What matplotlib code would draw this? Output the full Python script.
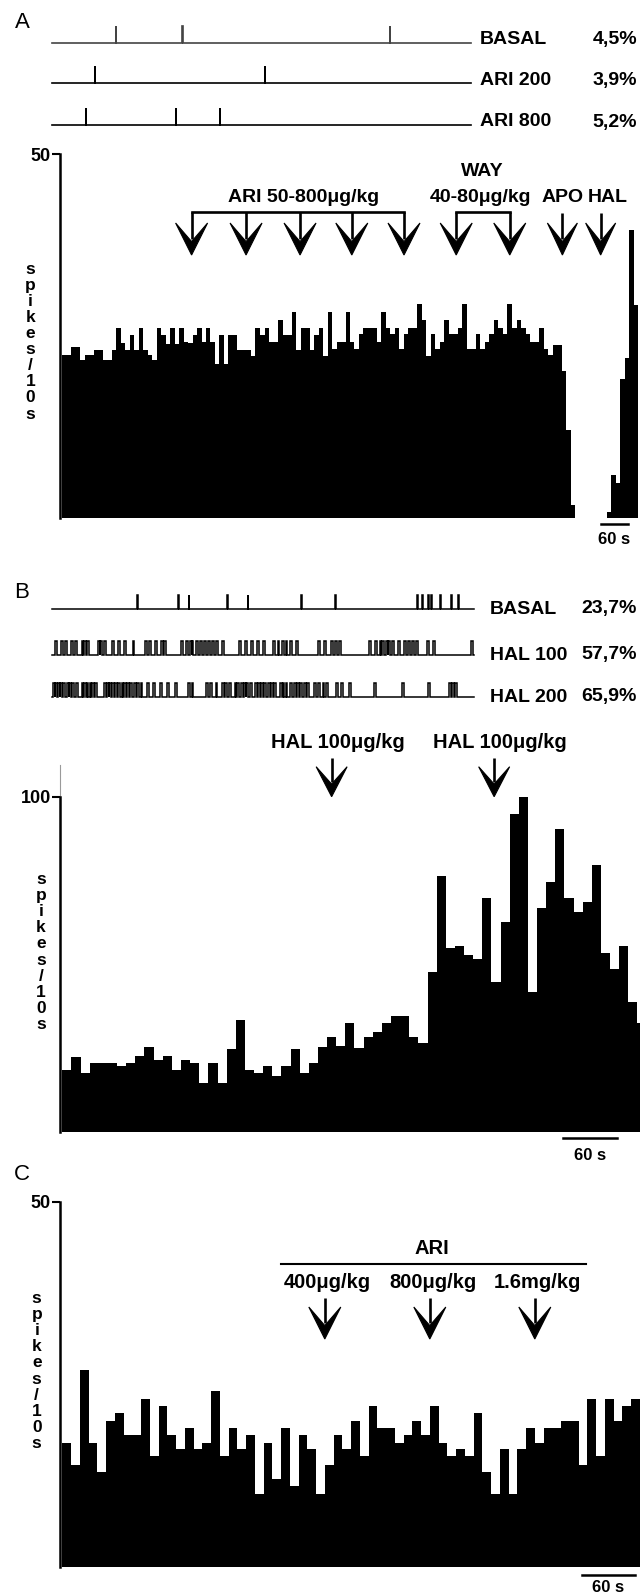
import numpy as np
import matplotlib
matplotlib.use("Agg")
import matplotlib.pyplot as plt
from matplotlib.patches import Polygon
from matplotlib.transforms import blended_transform_factory

plt.rcParams['font.family'] = ['Liberation Sans', 'DejaVu Sans']

W, H, DPI = 640, 1596, 100
BIN = 10  # seconds per histogram bin

# ---------------- data ----------------
# Panel A : firing rate (spikes / 10 s)
a_rate = [22.4, 22.4, 23.5, 23.5, 21.6, 22.3, 22.3, 23.0, 23.0, 21.6, 21.6, 23.0, 26.0, 24.0, 23.0,
          25.1, 23.0, 26.0, 23.0, 22.3, 21.6, 26.0, 25.1, 23.9, 26.0, 23.9, 26.0, 24.2, 24.0, 25.1,
          26.0, 24.2, 26.0, 24.2, 21.1, 25.1, 21.1, 25.1, 25.1, 23.0, 23.0, 23.0, 22.2, 26.0, 25.1,
          26.0, 24.2, 24.2, 27.1, 25.1, 25.1, 28.2, 23.0, 26.0, 26.0, 23.0, 25.1,
          26.1, 22.2, 28.2, 23.2, 24.2, 24.2, 28.2, 24.2, 23.2, 25.2, 26.1, 26.1, 26.1, 24.2, 28.2,
          26.1, 25.2, 26.1, 23.2, 25.2, 26.1, 26.1, 29.3, 27.2, 22.2, 25.2, 23.2, 24.2, 27.2, 25.2,
          25.2, 26.1, 29.3, 23.2, 23.2, 25.2, 23.2, 24.2, 25.2, 27.2, 26.1, 25.2, 29.3, 26.1, 27.2,
          26.1, 25.2, 24.2, 24.2, 26.1, 23.2, 22.4, 23.7, 23.7, 20.1, 12.0, 1.7,
          0, 0, 0, 0, 0, 0, 0,
          0.7, 5.8, 4.8, 19.0, 22.0, 39.5, 29.2]
a_ari_times = [288, 409, 529, 644, 760]
a_way_times = [876, 995]
a_apo_time = 1112
a_hal_time = 1197

a_trace_labels = ['BASAL', 'ARI 200', 'ARI 800']
a_trace_pcts = ['4,5%', '3,9%', '5,2%']
a_spikes = [[15.2, 31.1, 80.6], [10.3, 50.9], [8.0, 29.6, 40.0]]

# Panel B
b_rate = [18.4, 22.4, 17.6, 20.4, 20.4, 20.4, 19.6, 20.4, 22.6, 25.4, 21.4, 22.6, 18.4, 21.4, 20.4,
          14.6, 20.4, 14.6, 24.6, 33.3, 18.4, 17.6, 19.6, 16.6, 19.6, 24.6, 17.6, 20.4, 25.4, 28.4,
          25.6, 32.3, 24.9, 28.4, 29.6, 32.5, 34.5, 34.5, 28.4, 26.6, 47.5, 76.3, 54.7, 55.4, 52.6,
          51.4, 69.6, 44.7, 62.6, 94.7, 99.8, 41.7, 66.6, 74.6, 90.4, 69.7, 65.6, 68.6, 79.5, 53.4,
          48.5, 55.4, 38.6, 32.5]
b_hal_times = [295, 473]

b_trace_labels = ['BASAL', 'HAL 100', 'HAL 200']
b_trace_pcts = ['23,7%', '57,7%', '65,9%']
b_spikes = [
    [20.1, 30.0, 32.4, 41.6, 46.4, 59.1, 67.2, 86.6, 87.9, 89.3, 90.0, 92.1, 94.7, 96.3],
    [0.7, 2.1, 3.1, 4.6, 5.5, 7.0, 7.7, 8.4, 10.9, 11.5, 12.3, 14.2, 15.7, 17.2, 19.1, 22.0,
     23.0, 24.4, 25.9, 26.6, 30.7, 31.7, 32.7, 33.1, 34.1, 35.1, 36.0, 37.0, 38.0, 39.0, 40.4,
     44.3, 45.7, 47.2, 48.6, 50.1, 52.5, 53.5, 54.5, 55.4, 56.4, 57.8, 63.2, 64.6, 66.1, 67.2,
     68.0, 75.3, 76.7, 77.7, 78.4, 79.2, 79.7, 80.6, 82.1, 83.5, 84.5, 85.5, 86.4, 88.9, 90.3,
     99.5],
    [0.2, 0.8, 1.4, 1.9, 2.7, 3.5, 4.1, 4.8, 5.6, 7.0, 7.6, 8.2, 8.9, 9.6, 10.3, 12.3, 13.0,
     13.6, 14.2, 14.9, 15.7, 16.5, 17.2, 17.8, 18.6, 19.4, 20.1, 21.0, 22.5, 23.9, 25.6, 27.3,
     29.3, 32.2, 33.1, 36.5, 37.5, 38.8, 40.4, 41.1, 41.9, 43.3, 44.0, 44.8, 45.5, 46.1, 46.9,
     48.2, 48.8, 49.6, 50.4, 51.2, 51.9, 52.7, 54.0, 54.7, 55.4, 56.4, 57.4, 58.1, 58.9, 59.7,
     60.5, 62.2, 63.2, 64.2, 65.1, 67.3, 68.5, 70.5, 76.3, 83.0, 89.3, 94.2, 95.0, 95.7],
]

# Panel C
c_rate = [16.9, 14.0, 27.0, 16.9, 13.0, 20.0, 21.0, 18.0, 18.0, 23.0, 15.1, 22.0, 18.0, 16.1, 19.0,
          16.1, 16.9, 24.1, 15.1, 19.0, 16.1, 18.0, 10.0, 16.9, 12.0, 19.0, 11.0, 18.0, 16.1, 10.0,
          14.0, 18.0,
          16.1, 20.0, 15.1, 22.0, 19.0, 19.0, 17.0, 18.0, 20.0, 18.0, 22.0, 17.0, 15.1, 16.1, 15.1,
          21.1, 13.0, 10.0, 16.1, 10.0, 16.1, 19.0, 17.0, 19.0, 19.0, 20.0, 20.0, 14.0, 23.0, 15.1,
          23.0, 20.0, 22.0, 23.0]
c_ari_times = [300, 420, 540]
c_dose_labels = ['400μg/kg', '800μg/kg', '1.6mg/kg']

# ---------------- figure ----------------
fig = plt.figure(figsize=(W / DPI, H / DPI), dpi=DPI)
ov = fig.add_axes([0, 0, 1, 1])
ov.set_xlim(0, W)
ov.set_ylim(H, 0)
ov.axis('off')

BOLD = dict(fontweight='bold')
LAB_FS = 14


def px_axes(x0, y0, x1, y1):
    return fig.add_axes([x0 / W, 1 - y1 / H, (x1 - x0) / W, (y1 - y0) / H])


def to_px(ax, t, v=0.0):
    xd, yd = ax.transData.transform((t, v))
    return xd, H - yd


def hist_panel(rate, y_top, y_base, top_val, tick_val, bar_x0, px_per_bin, extra_top=None):
    ax = px_axes(60, y_top, W, y_base)
    edges = np.arange(len(rate) + 1) * BIN
    ax.stairs(rate, edges, fill=True, color='black', lw=0)
    ax.set_ylim(0, top_val)
    ax.set_xlim((60 - bar_x0) / px_per_bin * BIN, (W - bar_x0) / px_per_bin * BIN)
    for s in ['top', 'right', 'bottom']:
        ax.spines[s].set_visible(False)
    ax.spines['left'].set_linewidth(1.8)
    ax.spines['left'].set_bounds(0, tick_val)
    ax.set_xticks([])
    ax.set_yticks([tick_val])
    ax.set_yticklabels([str(tick_val)], fontsize=13, fontweight='bold')
    ax.tick_params(axis='y', direction='out', length=5.5, width=1.5, pad=1)
    ax.patch.set_alpha(0)
    if extra_top is not None:
        tr = blended_transform_factory(ax.transAxes, ax.transData)
        ax.plot([0, 0], [tick_val, extra_top], transform=tr, color='#9a9a9a', lw=0.8,
                clip_on=False)
    return ax


def arrow(x, y_top, y_tip, head_h=32, head_w=32, lw=1.9):
    ov.plot([x, x], [y_top, y_tip - head_h * 0.5], color='k', lw=lw, solid_capstyle='butt')
    ov.add_patch(Polygon([(x, y_tip), (x + head_w / 2, y_tip - head_h),
                          (x, y_tip - head_h * 0.42), (x - head_w / 2, y_tip - head_h)],
                         closed=True, facecolor='k', edgecolor='k', lw=0.8))


def ylabel_letters(x, y_center):
    ov.text(x, y_center, '\n'.join('spikes/10s'), ha='center', va='center',
            fontsize=12.5, fontweight='bold', linespacing=1.09)


def trace(spikes, x0, x1, y_base, height, pulse_w, color='k', lw=1.1):
    ax = px_axes(x0, y_base - height, x1, y_base)
    ax.set_xlim(0, 100)
    ax.set_ylim(0, 1)
    ax.axis('off')
    xs, ys = [0], [0]
    for s in spikes:
        xs += [s, s, s + pulse_w, s + pulse_w]
        ys += [0, 1, 1, 0]
    xs.append(100)
    ys.append(0)
    ax.plot(xs, ys, color=color, lw=lw, clip_on=False, solid_joinstyle='miter')
    return ax


# ---------------- Panel A ----------------
ov.text(22, 22, 'A', ha='center', va='center', fontsize=16)
a_trace_y = [42.7, 83.3, 125.0]
for i, (lab, pct, sp) in enumerate(zip(a_trace_labels, a_trace_pcts, a_spikes)):
    trace(sp, 52, 471, a_trace_y[i], 17, 0.05, color='#444444' if i == 0 else 'k', lw=1.2)
    ov.text(480, a_trace_y[i] - 3, lab, ha='left', va='center', fontsize=LAB_FS, **BOLD)
    ov.text(637, a_trace_y[i] - 3, pct, ha='right', va='center', fontsize=LAB_FS, **BOLD)

axA = hist_panel(a_rate, 154, 517.5, 50, 50, 62, 4.5)
ylabel_letters(30.6, 341.7)

ari_px = [to_px(axA, t)[0] for t in a_ari_times]
way_px = [to_px(axA, t)[0] for t in a_way_times]
apo_px = to_px(axA, a_apo_time)[0]
hal_px = to_px(axA, a_hal_time)[0]
br_y = 211.7
ov.plot([ari_px[0], ari_px[-1]], [br_y, br_y], color='k', lw=1.9, solid_capstyle='projecting')
ov.plot([way_px[0], way_px[-1]], [br_y, br_y], color='k', lw=1.9, solid_capstyle='projecting')
for x in ari_px + way_px:
    arrow(x, br_y, 255)
for x in (apo_px, hal_px):
    arrow(x, 213, 255, head_w=30)
ov.text(303.7, 197, 'ARI 50-800μg/kg', ha='center', va='center', fontsize=LAB_FS, **BOLD)
ov.text(482, 171, 'WAY', ha='center', va='center', fontsize=LAB_FS, **BOLD)
ov.text(480.8, 197, '40-80μg/kg', ha='center', va='center', fontsize=LAB_FS, **BOLD)
ov.text(562.5, 197, 'APO', ha='center', va='center', fontsize=LAB_FS, **BOLD)
ov.text(608, 197, 'HAL', ha='center', va='center', fontsize=LAB_FS, **BOLD)

# scale bar A (60 s)
sx0, _ = to_px(axA, 1197)
sx1, _ = to_px(axA, 1257)
ov.plot([sx0, sx1], [524, 524], color='k', lw=1.8)
ov.text((sx0 + sx1) / 2, 540, '60 s', ha='center', va='center', fontsize=12, **BOLD)

# ---------------- Panel B ----------------
ov.text(22, 592, 'B', ha='center', va='center', fontsize=16)
b_trace_y = [609.0, 655.0, 697.0]
b_pulse_w = [0.2, 0.45, 0.45]
for i, (lab, pct, sp) in enumerate(zip(b_trace_labels, b_trace_pcts, b_spikes)):
    trace(sp, 52, 473.5, b_trace_y[i], 14, b_pulse_w[i], lw=1.1)
    ov.text(490, b_trace_y[i], lab, ha='left', va='center', fontsize=LAB_FS, **BOLD)
    ov.text(637, b_trace_y[i], pct, ha='right', va='center', fontsize=LAB_FS, **BOLD)

axB = hist_panel(b_rate, 765, 1131.7, 109.4, 100, 62.3, 9.13, extra_top=109.4)
ylabel_letters(41, 952)
for t in b_hal_times:
    x, _ = to_px(axB, t)
    arrow(x, 758, 796.7, head_h=30, head_w=31)
    ov.text(x + 6, 743, 'HAL 100μg/kg', ha='center', va='center', fontsize=14.5, **BOLD)

sx0, _ = to_px(axB, 548)
sx1, _ = to_px(axB, 608)
ov.plot([sx0, sx1], [1138, 1138], color='k', lw=1.8)
ov.text((sx0 + sx1) / 2, 1155, '60 s', ha='center', va='center', fontsize=12, **BOLD)

# ---------------- Panel C ----------------
ov.text(22, 1175, 'C', ha='center', va='center', fontsize=16)
axC = hist_panel(c_rate, 1201.7, 1566.7, 50, 50, 62.3, 8.75)
ylabel_letters(36.7, 1371)
c_px = [to_px(axC, t)[0] for t in c_ari_times]
ov.text(431.6, 1248, 'ARI', ha='center', va='center', fontsize=14.5, **BOLD)
ov.plot([281, 585.7], [1264, 1264], color='k', lw=1.5)
for x, lab in zip(c_px, c_dose_labels):
    ov.text(x + 3, 1282, lab, ha='center', va='center', fontsize=14.5, **BOLD)
    arrow(x, 1298, 1339, head_h=32, head_w=32)

sx0, _ = to_px(axC, 594)
sx1, _ = to_px(axC, 654)
ov.plot([sx0, sx1], [1575, 1575], color='k', lw=1.8)
ov.text((sx0 + sx1) / 2, 1587, '60 s', ha='center', va='center', fontsize=12, **BOLD)

fig.savefig('out.png', dpi=DPI)
